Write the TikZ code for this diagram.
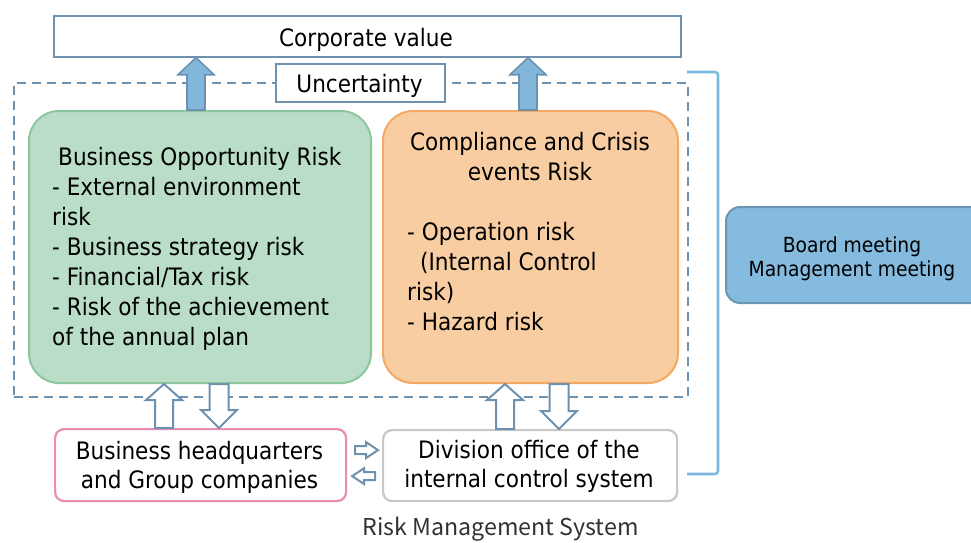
\documentclass[tikz,border=0pt]{standalone}
\usepackage{fontspec}
\setmainfont{DejaVu Sans Condensed}
\newfontfamily\capfont{Noto Sans CJK JP}
\usetikzlibrary{calc}
\definecolor{steel}{RGB}{110,145,175}
\definecolor{arrowfill}{RGB}{130,182,218}
\definecolor{greenfill}{RGB}{185,221,198}
\definecolor{greenline}{RGB}{140,198,158}
\definecolor{orangefill}{RGB}{249,205,162}
\definecolor{orangeline}{RGB}{244,168,98}
\definecolor{boardfill}{RGB}{133,187,222}
\definecolor{boardline}{RGB}{106,150,182}
\definecolor{pinkline}{RGB}{233,140,175}
\definecolor{grayline}{RGB}{200,200,200}
\definecolor{bracketcol}{RGB}{125,184,224}
\definecolor{capgray}{RGB}{50,50,50}
\newcommand\blockarr[6]{%
  \path let \p1=#2, \p2=#3, \n1={atan2(\y2-\y1,\x2-\x1)}, \n2={veclen(\x2-\x1,\y2-\y1)} in
    \pgfextra{\xdef\baang{\n1}\xdef\balen{\n2}\xdef\bax{\x1}\xdef\bay{\y1}};
  \draw[#1,shift={(\bax,\bay)},rotate=\baang]
    (0,-#4) -- ({\balen-#6},-#4) -- ({\balen-#6},-#5) -- (\balen,0) --
    ({\balen-#6},#5) -- ({\balen-#6},#4) -- (0,#4) -- cycle;}
\tikzset{
  plainbox/.style={draw=steel,line width=2.2pt,fill=white,inner sep=0pt},
  framebox/.style={draw=steel,line width=2.2pt,dash pattern=on 9pt off 6pt,inner sep=0pt},
  greenbox/.style={draw=greenline,fill=greenfill,line width=2pt,rounded corners=30pt,inner sep=0pt},
  orangebox/.style={draw=orangeline,fill=orangefill,line width=2pt,rounded corners=30pt,inner sep=0pt},
  boardbox/.style={draw=boardline,fill=boardfill,line width=2pt,rounded corners=14pt,inner sep=0pt},
  pinkbox/.style={draw=pinkline,fill=white,line width=2.2pt,rounded corners=9pt,inner sep=0pt},
  graybox/.style={draw=grayline,fill=white,line width=2.2pt,rounded corners=9pt,inner sep=0pt},
  txt/.style={inner sep=0pt,text=black},
  solidarr/.style={draw=steel,fill=arrowfill,line width=1.6pt,line join=miter},
  hollowarr/.style={draw=steel,fill=white,line width=2pt,line join=miter},
  bracketline/.style={draw=bracketcol,line width=2.6pt,rounded corners=3pt}
}
\begin{document}
\begin{tikzpicture}[x=1pt,y=-1pt,font=\fontsize{24}{30}\selectfont]
\useasboundingbox (0,0) rectangle (971,542);
\clip (0,0) rectangle (971,542);

% dashed frame
\node[framebox,anchor=north west,minimum width=674pt,minimum height=314pt] (frame) at (13,82) {};

% bracket
\coordinate (br1) at (687,72);
\coordinate (br2) at (718,72);
\coordinate (br3) at (718,474);
\coordinate (br4) at (687,474);
\draw[bracketline] (br1) -- (br2) -- (br3) -- (br4);

% boxes
\node[plainbox,anchor=north west,minimum width=627pt,minimum height=41pt] (corp) at (53,14.5) {};
\node[txt,anchor=base] (corpt) at (366,46) {Corporate value};

\node[plainbox,anchor=north west,minimum width=169pt,minimum height=38pt] (unc) at (275,63) {};
\node[txt,anchor=base] (unct) at (359.5,92) {Uncertainty};

\node[greenbox,anchor=north west,minimum width=342pt,minimum height=272pt] (green) at (28,110) {};
\node[orangebox,anchor=north west,minimum width=295pt,minimum height=272pt] (orange) at (382,110) {};
\node[boardbox,anchor=north west,minimum width=270pt,minimum height=96pt] (board) at (725,206) {};
\node[pinkbox,anchor=north west,minimum width=291pt,minimum height=72pt] (pink) at (54,428) {};
\node[graybox,anchor=north west,minimum width=294pt,minimum height=71pt] (gray) at (382,429) {};

% texts (base anchor = baseline of the last line)
\node[txt,anchor=base west,align=left] (gtext) at (52,345)
  {\hspace*{6pt}Business Opportunity Risk\\- External environment\\risk\\- Business strategy risk\\- Financial/Tax risk\\- Risk of the achievement\\of the annual plan};
\node[txt,anchor=base,align=center] (otitle) at (530,180) {Compliance and Crisis\\events Risk};
\node[txt,anchor=base west,align=left] (otext) at (407,330)
  {- Operation risk\\\hspace*{13pt}(Internal Control\\risk)\\- Hazard risk};
\node[txt,anchor=base,align=center,font=\fontsize{20.8}{24}\selectfont] (boardt) at (852,276) {Board meeting\\Management meeting};
\node[txt,anchor=base,align=center,font=\fontsize{24}{29}\selectfont] (pinkt) at (199.5,488) {Business headquarters\\and Group companies};
\node[txt,anchor=base,align=center,font=\fontsize{24}{29}\selectfont] (grayt) at (529,487) {Division office of the\\internal control system};
\node[txt,anchor=base,text=capgray,font=\capfont\fontsize{23.2}{26}\selectfont] (cap) at (500.5,535) {Risk Management System};

% arrow positions
\coordinate (xa) at (196,0);
\coordinate (xb) at (528,0);
\coordinate (xc) at (164,0);
\coordinate (xd) at (219,0);
\coordinate (xe) at (505,0);
\coordinate (xf) at (559,0);

\blockarr{solidarr}{(xa |- green.north)}{(xa |- corp.south)}{9}{18}{17}
\blockarr{solidarr}{(xb |- orange.north)}{(xb |- corp.south)}{9}{18}{17}

\blockarr{hollowarr}{(xc |- pink.north)}{(xc |- green.south)}{9}{18}{16}
\blockarr{hollowarr}{(xd |- green.south)}{(xd |- pink.north)}{9.5}{18}{18}
\blockarr{hollowarr}{(xe |- gray.north)}{(xe |- orange.south)}{9}{18}{16}
\blockarr{hollowarr}{(xf |- orange.south)}{(xf |- gray.north)}{9.5}{18}{18}

\coordinate (ha1) at ($(pink.east)+(8,-15)$);
\coordinate (ha2) at ($(gray.west)+(-4,-15.5)$);
\coordinate (hb1) at ($(gray.west)+(-7,10.5)$);
\coordinate (hb2) at ($(pink.east)+(5,11)$);
\blockarr{hollowarr}{(ha1)}{(ha1 -| ha2)}{4}{8}{12}
\blockarr{hollowarr}{(hb1)}{(hb1 -| hb2)}{4}{8}{12}
\end{tikzpicture}
\end{document}
